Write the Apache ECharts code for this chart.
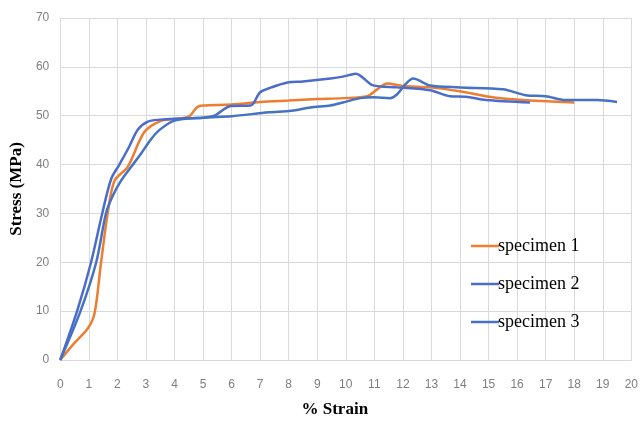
<!DOCTYPE html>
<html>
<head>
<meta charset="utf-8">
<script src="https://cdn.jsdelivr.net/npm/echarts@6/dist/echarts.min.js"></script>
<style>html,body{margin:0;padding:0;background:#fff;}#c{width:641px;height:423px;}</style>
</head>
<body>
<div id="c"></div>
<script>
const seriesNames = ['specimen 1', 'specimen 2', 'specimen 3'];
const xTicks = [0,1,2,3,4,5,6,7,8,9,10,11,12,13,14,15,16,17,18,19,20];
const yTicks = [0,10,20,30,40,50,60,70];

const s1Strain = [0, 0.5, 0.97, 1.2, 1.43, 1.66, 1.9, 2.36, 2.94, 3.5, 4.0, 4.5, 4.8, 5.0, 6, 7, 8, 9, 9.9, 10.75, 11.1, 11.45, 12, 12.95, 14, 14.9, 15.7, 16.9, 18];
const s1Stress = [0, 3.5, 6.5, 9.5, 20, 30, 36.7, 39.5, 46.6, 48.9, 49.3, 49.8, 51.8, 52.1, 52.3, 52.8, 53.1, 53.4, 53.6, 54.0, 55.4, 56.6, 56.1, 55.8, 55.0, 54.0, 53.4, 53.0, 52.7];

const s2Strain = [0, 0.59, 1.08, 1.47, 1.78, 2.07, 2.4, 2.72, 3.07, 3.5, 4, 5, 5.4, 5.97, 6.67, 7.0, 7.4, 7.96, 8.5, 9.46, 9.9, 10.35, 10.96, 11.8, 12.95, 13.65, 14.2, 14.9, 16.45];
const s2Stress = [0, 10, 20, 30, 37, 40, 43.5, 47.2, 48.8, 49.2, 49.4, 49.6, 50, 52, 52.1, 54.8, 55.8, 56.8, 57, 57.6, 58, 58.6, 56.2, 55.8, 55.2, 54, 53.9, 53.2, 52.7];

const s3Strain = [0, 0.71, 1.26, 1.6, 1.84, 2.13, 2.48, 2.8, 3.18, 3.5, 4, 5, 6, 7.3, 8.1, 8.76, 9.46, 9.9, 10.5, 11.0, 11.55, 11.8, 12.1, 12.36, 12.95, 14, 15.5, 16.3, 17, 17.7, 18.8, 19.5];
const s3Stress = [0, 10, 20, 30, 33.6, 36.7, 39.5, 42, 45.2, 47.2, 49, 49.6, 49.9, 50.7, 51, 51.7, 52.1, 52.7, 53.6, 53.8, 53.6, 54.4, 56.5, 57.6, 56.2, 55.8, 55.4, 54.2, 54, 53.2, 53.2, 52.8];

function pairs(xs, ys) { return xs.map((x, i) => [x, ys[i]]); }

const colors = ['#ED7D31', '#4C6CCB', '#4472C4'];
const data = [pairs(s1Strain, s1Stress), pairs(s2Strain, s2Stress), pairs(s3Strain, s3Stress)];

const chart = echarts.init(document.getElementById('c'), null, {renderer: 'canvas'});
chart.setOption({
  animation: false,
  backgroundColor: '#fff',
  grid: {left: 59, right: 9, top: 18, bottom: 61},
  legend: {
    orient: 'vertical',
    left: 466, top: 232,
    icon: 'rect',
    itemWidth: 28, itemHeight: 2.5, itemGap: 20,
    data: seriesNames,
    textStyle: {fontFamily: 'Liberation Serif', fontSize: 18, color: '#000', padding: [0,0,0,-6]}
  },
  xAxis: {
    type: 'value', min: xTicks[0], max: xTicks[xTicks.length-1], interval: 1,
    name: '% Strain', nameLocation: 'middle', nameGap: 41,
    nameTextStyle: {fontFamily: 'Liberation Serif', fontWeight: 'bold', fontSize: 17, color: '#000', padding: [0, 22, 0, 0]},
    axisLine: {show: true, lineStyle: {color: '#d9d9d9', width: 1}},
    axisTick: {show: false},
    axisLabel: {color: '#7f7f7f', fontFamily: 'Liberation Sans', fontSize: 12, margin: 19},
    splitLine: {show: true, lineStyle: {color: '#d9d9d9', width: 1}}
  },
  yAxis: {
    type: 'value', min: yTicks[0], max: yTicks[yTicks.length-1], interval: 10,
    name: 'Stress (MPa)', nameLocation: 'middle', nameGap: 31,
    nameTextStyle: {fontFamily: 'Liberation Serif', fontWeight: 'bold', fontSize: 17, color: '#000'},
    axisLine: {show: false},
    axisTick: {show: false},
    axisLabel: {color: '#7f7f7f', fontFamily: 'Liberation Sans', fontSize: 12, margin: 11},
    splitLine: {show: true, lineStyle: {color: '#d9d9d9', width: 1}}
  },
  series: seriesNames.map((n, i) => ({
    name: n, type: 'line', data: data[i], smooth: 0.3, symbol: 'none',
    lineStyle: {color: colors[i], width: 2.5},
    itemStyle: {color: colors[i]}
  }))
});
</script>
</body>
</html>
